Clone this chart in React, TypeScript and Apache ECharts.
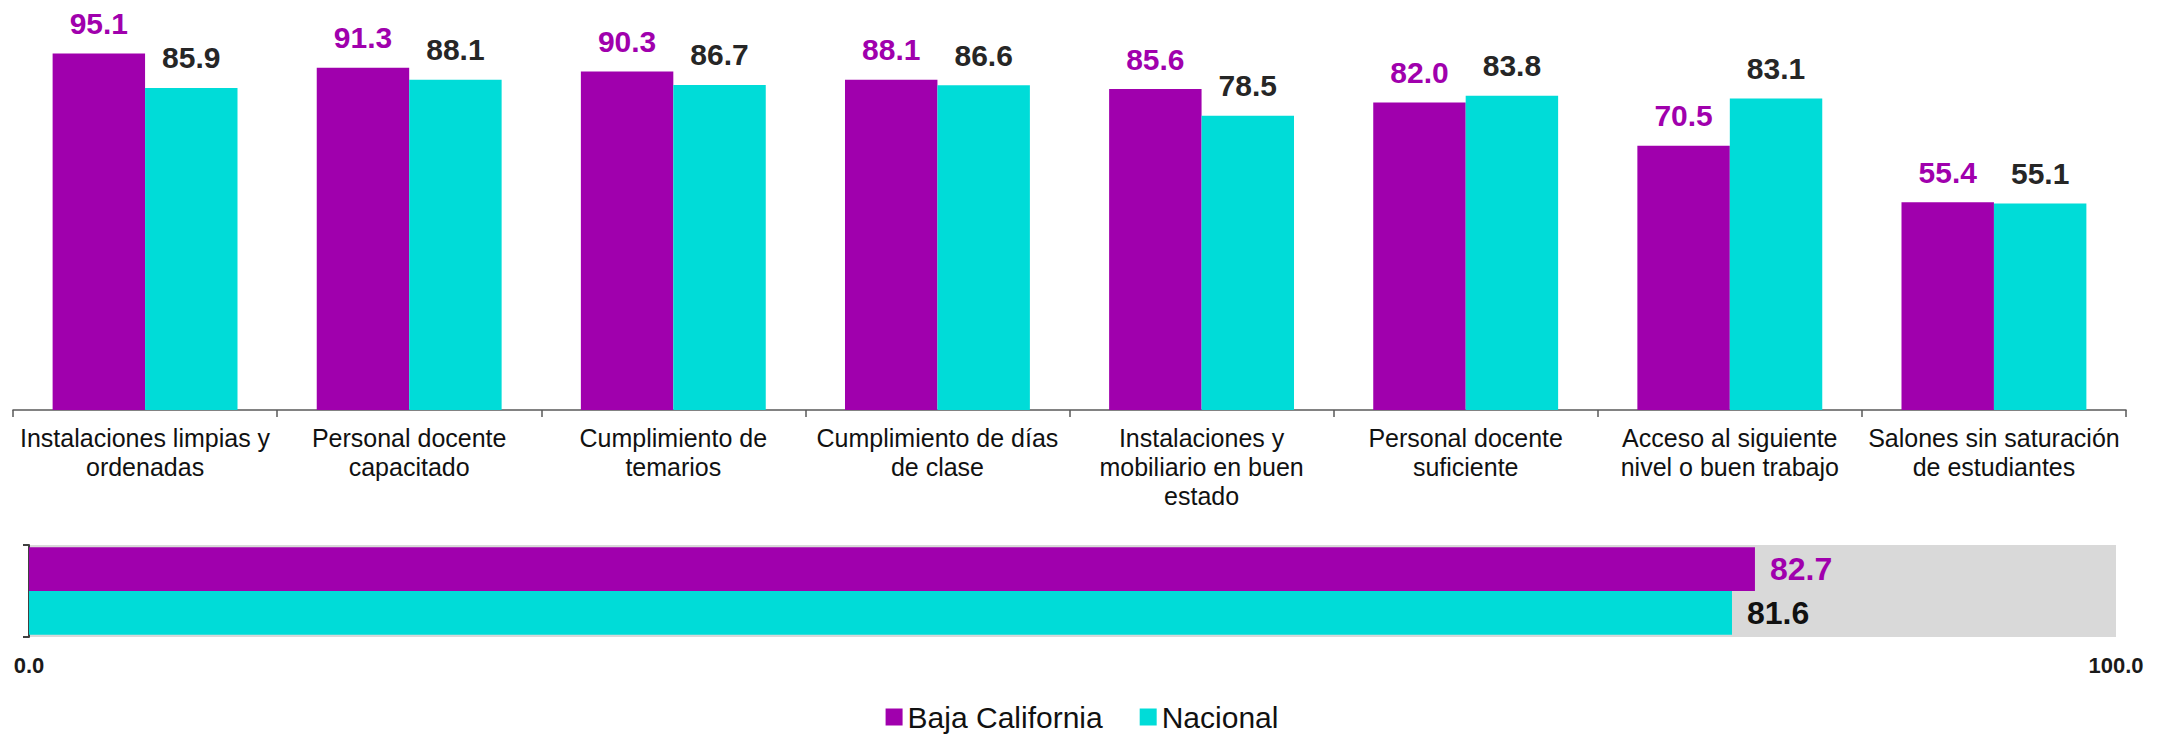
import React, { useEffect, useRef } from "react";
import * as echarts from "echarts";

const categories = [
  "Instalaciones limpias y\nordenadas",
  "Personal docente\ncapacitado",
  "Cumplimiento de\ntemarios",
  "Cumplimiento de días\nde clase",
  "Instalaciones y\nmobiliario en buen\nestado",
  "Personal docente\nsuficiente",
  "Acceso al siguiente\nnivel o buen trabajo",
  "Salones sin saturación\nde estudiantes",
];
const bajaCalifornia = [95.1, 91.3, 90.3, 88.1, 85.6, 82.0, 70.5, 55.4];
const nacional = [85.9, 88.1, 86.7, 86.6, 78.5, 83.8, 83.1, 55.1];

const summaryCategory = ["Promedio"];
const summaryBajaCalifornia = [82.7];
const summaryNacional = [81.6];
const summaryTicks = [0, 100];

const seriesNames = ["Baja California", "Nacional"];
const PURPLE = "#A000AD";
const CYAN = "#00DCD8";
const PURPLE_TEXT = "#A000AD";
const DARK_TEXT = "#262626";
const FONT = 'Arial, "Liberation Sans", sans-serif';

export default function App() {
  const ref = useRef<HTMLDivElement>(null);

  useEffect(() => {
    if (!ref.current) return;
    const chart = echarts.init(ref.current, undefined, { renderer: "svg" });
    const fmt = (p: any) => Number(p.value).toFixed(1);
    chart.setOption({
      animation: false,
      backgroundColor: "#ffffff",
      textStyle: { fontFamily: FONT },
      legend: {
        data: seriesNames,
        left: "center",
        top: 697,
        itemWidth: 17,
        itemHeight: 17,
        itemGap: 37,
        icon: "rect",
        textStyle: { fontSize: 30, color: "#111111", fontFamily: FONT },
      },
      grid: [
        { left: 13, right: 38, top: 35, bottom: 324, containLabel: false },
        {
          left: 29,
          right: 48,
          top: 545,
          bottom: 97,
          show: true,
          backgroundColor: "#D9D9D9",
          borderWidth: 0,
          containLabel: false,
        },
      ],
      xAxis: [
        {
          type: "category",
          gridIndex: 0,
          data: categories,
          axisLine: { show: true, lineStyle: { color: "#595959", width: 1.5 } },
          axisTick: { show: true, length: 7, lineStyle: { color: "#595959", width: 1.5 } },
          axisLabel: {
            interval: 0,
            margin: 13,
            fontSize: 25,
            lineHeight: 29,
            color: "#111111",
            fontFamily: FONT,
          },
        },
        {
          type: "value",
          gridIndex: 1,
          min: summaryTicks[0],
          max: summaryTicks[1],
          interval: 100,
          axisLine: { show: false },
          axisTick: { show: false },
          splitLine: { show: false },
          axisLabel: {
            margin: 17,
            fontSize: 22,
            fontWeight: "bold",
            color: "#1a1a1a",
            fontFamily: FONT,
            formatter: (v: number) => v.toFixed(1),
          },
        },
      ],
      yAxis: [
        {
          type: "value",
          gridIndex: 0,
          min: 0,
          max: 100,
          show: false,
          splitLine: { show: false },
        },
        {
          type: "category",
          gridIndex: 1,
          inverse: true,
          data: summaryCategory,
          axisLine: { show: true, lineStyle: { color: "#404040", width: 2 } },
          axisTick: { show: true, length: 6, lineStyle: { color: "#404040", width: 2 } },
          axisLabel: { show: false },
        },
      ],
      series: [
        {
          name: seriesNames[0],
          type: "bar",
          xAxisIndex: 0,
          yAxisIndex: 0,
          data: bajaCalifornia,
          barGap: "0%",
          barCategoryGap: "30%",
          itemStyle: { color: PURPLE },
          label: {
            show: true,
            position: "top",
            distance: 15,
            formatter: fmt,
            fontSize: 30,
            fontWeight: "bold",
            color: PURPLE_TEXT,
            fontFamily: FONT,
          },
        },
        {
          name: seriesNames[1],
          type: "bar",
          xAxisIndex: 0,
          yAxisIndex: 0,
          data: nacional,
          barGap: "0%",
          barCategoryGap: "30%",
          itemStyle: { color: CYAN },
          label: {
            show: true,
            position: "top",
            distance: 15,
            formatter: fmt,
            fontSize: 30,
            fontWeight: "bold",
            color: DARK_TEXT,
            fontFamily: FONT,
          },
        },
        {
          name: seriesNames[0],
          type: "bar",
          xAxisIndex: 1,
          yAxisIndex: 1,
          data: summaryBajaCalifornia,
          barGap: "0%",
          barCategoryGap: "5%",
          itemStyle: { color: PURPLE },
          label: {
            show: true,
            position: "right",
            distance: 15,
            formatter: fmt,
            fontSize: 32,
            fontWeight: "bold",
            color: PURPLE_TEXT,
            fontFamily: FONT,
          },
        },
        {
          name: seriesNames[1],
          type: "bar",
          xAxisIndex: 1,
          yAxisIndex: 1,
          data: summaryNacional,
          barGap: "0%",
          barCategoryGap: "5%",
          itemStyle: { color: CYAN },
          label: {
            show: true,
            position: "right",
            distance: 15,
            formatter: fmt,
            fontSize: 32,
            fontWeight: "bold",
            color: "#111111",
            fontFamily: FONT,
          },
        },
      ],
    });
    return () => chart.dispose();
  }, []);

  return (
    <div
      ref={ref}
      style={{ position: "absolute", left: 0, top: 0, width: 2164, height: 734 }}
    />
  );
}
